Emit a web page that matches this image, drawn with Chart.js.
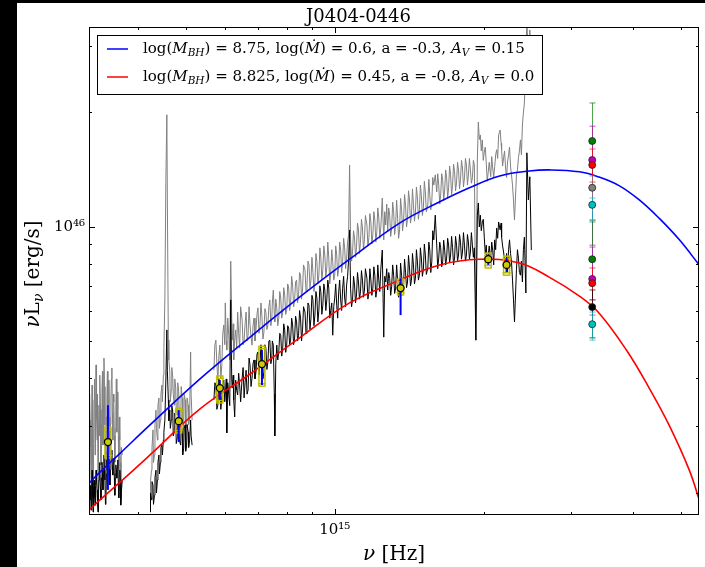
<!DOCTYPE html>
<html>
<head>
<meta charset="utf-8">
<title>J0404-0446 SED</title>
<script src="https://cdn.jsdelivr.net/npm/chart.js@4.4.1/dist/chart.umd.min.js"></script>
<style>
  html, body { margin: 0; padding: 0; background: #000; overflow: hidden; }
  #wrap { position: absolute; left: 17px; top: 3px; width: 688px; height: 564px; background: #fff; }
</style>
</head>
<body>
<div id="wrap"><canvas id="sed" width="688" height="564"></canvas></div>
<script>
// axis limits
const NU_MIN = 3.19e14, NU_MAX = 5.44e15;
const L_MIN = 1.746e45, L_MAX = 3.357e46;

// spectrum, in three pieces: log10(nu/Hz), observed (gray) and corrected (black) log10(nu L_nu)
const spec1LogNu = [
  14.504, 14.505, 14.506, 14.507, 14.508, 14.509, 14.510, 14.511, 14.512, 14.513,
  14.514, 14.515, 14.516, 14.517, 14.518, 14.519, 14.520, 14.521, 14.522, 14.523,
  14.524, 14.525, 14.526, 14.527, 14.528, 14.529, 14.530, 14.531, 14.532, 14.533,
  14.534, 14.535, 14.536, 14.537, 14.538, 14.539, 14.540, 14.541, 14.542, 14.543,
  14.544, 14.545, 14.546, 14.547, 14.548, 14.549, 14.550, 14.551, 14.552, 14.553,
  14.554, 14.555, 14.556, 14.557, 14.558, 14.559, 14.560, 14.561, 14.562, 14.563,
  14.564, 14.565, 14.566, 14.567, 14.568, 14.569, 14.571
];
const spec1Gray = [
  45.360, 45.560, 45.492, 45.420, 45.308, 45.470, 45.584, 45.380, 45.268, 45.430,
  45.545, 45.600, 45.400, 45.520, 45.637, 45.500, 45.439, 45.560, 45.250, 45.470,
  45.531, 45.450, 45.610, 45.520, 45.374, 45.480, 45.571, 45.620, 45.426, 45.530,
  45.655, 45.580, 45.479, 45.410, 45.360, 45.500, 45.558, 45.620, 45.466, 45.540,
  45.597, 45.500, 45.400, 45.480, 45.545, 45.600, 45.629, 45.510, 45.439, 45.560,
  45.539, 45.450, 45.381, 45.470, 45.518, 45.600, 45.460, 45.520, 45.566, 45.450,
  45.360, 45.500, 45.439, 45.380, 45.282, 45.420, 45.400
];
const spec1Black = [
  45.250, 45.300, 45.282, 45.320, 45.255, 45.300, 45.360, 45.290, 45.250, 45.310,
  45.334, 45.290, 45.268, 45.320, 45.360, 45.330, 45.308, 45.270, 45.250, 45.300,
  45.334, 45.380, 45.360, 45.310, 45.282, 45.340, 45.381, 45.350, 45.308, 45.360,
  45.400, 45.360, 45.334, 45.270, 45.282, 45.350, 45.387, 45.360, 45.347, 45.380,
  45.400, 45.360, 45.321, 45.360, 45.381, 45.400, 45.413, 45.370, 45.347, 45.380,
  45.392, 45.340, 45.294, 45.350, 45.374, 45.360, 45.339, 45.370, 45.387, 45.330,
  45.287, 45.320, 45.360, 45.330, 45.268, 45.300, 45.334
];

const spec2LogNu = [
  14.627, 14.628, 14.630, 14.631, 14.633, 14.634, 14.636, 14.637, 14.639, 14.640,
  14.642, 14.643, 14.645, 14.646, 14.648, 14.649, 14.651, 14.652, 14.654, 14.655,
  14.657, 14.659, 14.661, 14.662, 14.664, 14.665, 14.667, 14.668, 14.670, 14.671,
  14.673, 14.674, 14.676, 14.677, 14.679, 14.680, 14.682, 14.683, 14.685, 14.686,
  14.689, 14.690, 14.692, 14.693, 14.695, 14.696, 14.698, 14.699, 14.701, 14.702,
  14.704, 14.705, 14.707, 14.709, 14.710, 14.712
];
const spec2Gray = [
  45.268, 45.330, 45.360, 45.420, 45.466, 45.380, 45.400, 45.480, 45.518, 45.470,
  45.439, 45.530, 45.550, 45.470, 45.492, 45.560, 45.584, 45.540, 45.610, 45.680,
  45.808, 46.124, 46.295, 46.071, 45.702, 45.650, 45.618, 45.540, 45.571, 45.630,
  45.602, 45.560, 45.531, 45.600, 45.576, 45.520, 45.505, 45.590, 45.566, 45.500,
  45.492, 45.580, 45.550, 45.490, 45.466, 45.560, 45.545, 45.470, 45.479, 45.550,
  45.531, 45.480, 45.497, 45.671, 45.560, 45.492
];
const spec2Black = [
  45.250, 45.300, 45.282, 45.330, 45.321, 45.270, 45.294, 45.340, 45.360, 45.300,
  45.334, 45.380, 45.400, 45.350, 45.381, 45.420, 45.426, 45.400, 45.439, 45.460,
  45.492, 45.597, 45.729, 45.623, 45.545, 45.490, 45.518, 45.470, 45.492, 45.530,
  45.513, 45.450, 45.460, 45.510, 45.497, 45.430, 45.445, 45.500, 45.479, 45.440,
  45.426, 45.480, 45.466, 45.400, 45.418, 45.470, 45.479, 45.410, 45.426, 45.480,
  45.460, 45.420, 45.439, 45.492, 45.450, 45.426
];

const spec3LogNu = [
  14.756, 14.758, 14.760, 14.762, 14.764, 14.766, 14.768, 14.770, 14.772, 14.774,
  14.776, 14.778, 14.779, 14.781, 14.782, 14.784, 14.786, 14.788, 14.790, 14.792,
  14.793, 14.795, 14.796, 14.798, 14.800, 14.802, 14.804, 14.806, 14.808, 14.810,
  14.813, 14.815, 14.817, 14.819, 14.821, 14.823, 14.825, 14.827, 14.829, 14.831,
  14.833, 14.835, 14.837, 14.839, 14.841, 14.843, 14.845, 14.847, 14.849, 14.851,
  14.853, 14.855, 14.857, 14.859, 14.861, 14.863, 14.865, 14.867, 14.869, 14.871,
  14.873, 14.874, 14.876, 14.878, 14.879, 14.881, 14.883, 14.885, 14.887, 14.889,
  14.891, 14.893, 14.895, 14.897, 14.899, 14.901, 14.903, 14.905, 14.907, 14.909,
  14.911, 14.913, 14.915, 14.917, 14.919, 14.921, 14.923, 14.925, 14.927, 14.929,
  14.931, 14.933, 14.935, 14.937, 14.940, 14.942, 14.944, 14.946, 14.948, 14.950,
  14.952, 14.954, 14.956, 14.958, 14.960, 14.962, 14.964, 14.966, 14.968, 14.970,
  14.972, 14.974, 14.976, 14.978, 14.980, 14.982, 14.984, 14.986, 14.988, 14.990,
  14.992, 14.994, 14.996, 14.998, 15.000, 15.002, 15.004, 15.006, 15.008, 15.010,
  15.012, 15.014, 15.016, 15.018, 15.020, 15.022, 15.024, 15.026, 15.028, 15.030,
  15.032, 15.034, 15.036, 15.038, 15.040, 15.042, 15.044, 15.046, 15.048, 15.050,
  15.052, 15.054, 15.056, 15.058, 15.060, 15.062, 15.065, 15.067, 15.069, 15.071,
  15.073, 15.075, 15.077, 15.079, 15.081, 15.083, 15.085, 15.087, 15.089, 15.091,
  15.093, 15.096, 15.099, 15.101, 15.103, 15.105, 15.107, 15.109, 15.111, 15.113,
  15.115, 15.117, 15.119, 15.121, 15.123, 15.125, 15.127, 15.129, 15.131, 15.133,
  15.135, 15.137, 15.139, 15.141, 15.143, 15.145, 15.147, 15.149, 15.151, 15.153,
  15.155, 15.157, 15.159, 15.161, 15.163, 15.165, 15.167, 15.169, 15.171, 15.173,
  15.175, 15.177, 15.179, 15.181, 15.183, 15.185, 15.188, 15.190, 15.192, 15.194,
  15.196, 15.198, 15.200, 15.203, 15.206, 15.208, 15.210, 15.212, 15.214, 15.216,
  15.218, 15.220, 15.222, 15.224, 15.226, 15.228, 15.230, 15.232, 15.234, 15.236,
  15.238, 15.240, 15.242, 15.244, 15.246, 15.248, 15.250, 15.252, 15.254, 15.256,
  15.258, 15.260, 15.262, 15.264, 15.266, 15.268, 15.270, 15.272, 15.274, 15.276,
  15.278, 15.280, 15.282, 15.285, 15.288, 15.290, 15.292, 15.294, 15.296, 15.298,
  15.300, 15.302, 15.304, 15.306, 15.308, 15.310, 15.312, 15.315, 15.317, 15.319,
  15.321, 15.323, 15.325, 15.327, 15.329, 15.331, 15.334, 15.336, 15.337, 15.339,
  15.341, 15.343, 15.345, 15.347, 15.349, 15.351, 15.353, 15.355, 15.357, 15.359,
  15.361, 15.363, 15.367, 15.369, 15.371, 15.373, 15.375, 15.377, 15.379, 15.381,
  15.383, 15.386, 15.388, 15.391, 15.394, 15.397
];
const spec3Gray = [
  45.623, 45.690, 45.702, 45.640, 45.597, 45.660, 45.689, 45.600, 45.637, 45.720,
  45.742, 45.690, 45.800, 45.700, 45.676, 45.760, 45.715, 45.650, 45.910, 45.760,
  45.702, 45.745, 45.650, 45.700, 45.729, 45.680, 45.776, 45.720, 45.681, 45.790,
  45.755, 45.690, 45.702, 45.745, 45.776, 45.700, 45.715, 45.790, 45.742, 45.710,
  45.689, 45.740, 45.760, 45.700, 45.729, 45.770, 45.787, 45.720, 45.742, 45.800,
  45.765, 45.705, 45.723, 45.785, 45.776, 45.730, 45.742, 45.790, 45.808, 45.740,
  45.760, 45.800, 45.834, 45.770, 45.750, 45.810, 45.787, 45.740, 45.760, 45.830,
  45.813, 45.760, 45.776, 45.840, 45.821, 45.770, 45.781, 45.850, 45.839, 45.780,
  45.802, 45.870, 45.847, 45.790, 45.808, 45.855, 45.860, 45.800, 45.821, 45.880,
  45.873, 45.810, 45.834, 45.900, 45.887, 45.830, 45.847, 45.910, 45.900, 45.840,
  45.860, 45.920, 45.881, 45.830, 45.855, 45.930, 45.908, 45.850, 45.873, 45.945,
  45.918, 45.860, 45.887, 45.950, 45.926, 45.870, 45.892, 45.960, 45.918, 45.850,
  45.881, 45.940, 45.908, 45.860, 45.873, 45.950, 45.926, 45.870, 45.892, 45.960,
  45.939, 45.880, 45.908, 45.970, 45.945, 45.890, 45.918, 45.960, 45.979, 46.163,
  45.966, 45.910, 45.934, 45.990, 45.971, 45.920, 45.945, 46.010, 45.992, 45.930,
  45.960, 46.020, 45.997, 45.940, 45.966, 46.030, 46.005, 45.950, 45.971, 46.035,
  46.013, 45.955, 45.979, 46.040, 46.018, 45.960, 45.987, 46.050, 46.023, 45.970,
  45.997, 46.076, 45.966, 46.040, 46.005, 46.060, 45.987, 46.050, 46.031, 45.975,
  45.997, 46.065, 46.039, 45.980, 46.005, 46.070, 46.023, 45.970, 45.992, 46.075,
  46.045, 45.990, 46.013, 46.085, 46.058, 46.000, 46.023, 46.095, 46.071, 46.010,
  46.031, 46.100, 46.058, 46.015, 46.039, 46.105, 46.076, 46.020, 46.045, 46.110,
  46.082, 46.030, 46.050, 46.120, 46.092, 46.040, 46.058, 46.125, 46.084, 46.045,
  46.066, 46.130, 46.110, 46.137, 46.092, 46.140, 46.110, 46.060, 46.084, 46.140,
  46.124, 46.070, 46.097, 46.150, 46.129, 46.075, 46.103, 46.160, 46.137, 46.085,
  46.110, 46.165, 46.145, 46.095, 46.118, 46.170, 46.150, 46.100, 46.124, 46.175,
  46.155, 46.105, 46.129, 46.180, 46.163, 46.110, 46.137, 46.180, 46.150, 46.115,
  46.129, 46.175, 46.163, 45.702, 46.176, 46.276, 46.230, 46.242, 46.200, 46.229,
  46.175, 46.197, 46.210, 46.168, 46.120, 46.145, 46.170, 46.132, 46.185, 46.155,
  46.130, 46.158, 46.190, 46.203, 46.180, 46.242, 46.255, 46.220, 46.203, 46.160,
  46.182, 46.200, 46.155, 46.130, 46.171, 46.190, 46.210, 46.160, 46.137, 46.110,
  46.071, 46.018, 46.137, 46.150, 46.182, 46.200, 46.229, 46.190, 46.268, 46.300,
  46.326, 46.440, 46.545, 46.432, 46.518, 46.361
];
const spec3Black = [
  45.545, 45.590, 45.584, 45.520, 45.531, 45.600, 45.571, 45.520, 45.550, 45.585,
  45.597, 45.540, 45.558, 45.600, 45.458, 45.590, 45.558, 45.530, 45.808, 45.600,
  45.576, 45.610, 45.545, 45.500, 45.597, 45.570, 45.558, 45.615, 45.584, 45.540,
  45.602, 45.630, 45.550, 45.590, 45.623, 45.560, 45.571, 45.655, 45.637, 45.580,
  45.602, 45.640, 45.650, 45.600, 45.618, 45.665, 45.671, 45.610, 45.637, 45.690,
  45.663, 45.600, 45.618, 45.690, 45.681, 45.625, 45.644, 45.700, 45.702, 45.640,
  45.655, 45.700, 45.689, 45.560, 45.450, 45.640, 45.689, 45.650, 45.671, 45.720,
  45.715, 45.660, 45.681, 45.745, 45.729, 45.670, 45.689, 45.740, 45.734, 45.690,
  45.702, 45.760, 45.742, 45.690, 45.708, 45.765, 45.750, 45.700, 45.715, 45.780,
  45.760, 45.700, 45.729, 45.790, 45.776, 45.720, 45.742, 45.800, 45.794, 45.730,
  45.760, 45.820, 45.808, 45.740, 45.768, 45.830, 45.813, 45.750, 45.781, 45.845,
  45.829, 45.770, 45.794, 45.850, 45.834, 45.780, 45.808, 45.860, 45.839, 45.760,
  45.781, 45.800, 45.715, 45.790, 45.813, 45.850, 45.794, 45.760, 45.829, 45.860,
  45.808, 45.780, 45.839, 45.870, 45.813, 45.790, 45.847, 45.870, 45.913, 45.992,
  45.839, 45.790, 45.808, 45.870, 45.847, 45.800, 45.821, 45.880, 45.855, 45.810,
  45.829, 45.885, 45.860, 45.815, 45.834, 45.890, 45.865, 45.810, 45.829, 45.890,
  45.860, 45.820, 45.839, 45.895, 45.873, 45.815, 45.834, 45.900, 45.860, 45.830,
  45.887, 45.939, 45.710, 45.870, 45.855, 45.890, 45.834, 45.880, 45.865, 45.820,
  45.844, 45.900, 45.873, 45.825, 45.839, 45.900, 45.860, 45.815, 45.829, 45.905,
  45.873, 45.830, 45.847, 45.915, 45.881, 45.840, 45.855, 45.925, 45.892, 45.845,
  45.860, 45.930, 45.900, 45.850, 45.865, 45.940, 45.908, 45.860, 45.873, 45.945,
  45.918, 45.870, 45.887, 45.955, 45.926, 45.875, 45.892, 45.960, 45.939, 45.880,
  45.908, 45.990, 45.966, 46.031, 45.952, 45.890, 45.918, 45.960, 45.945, 45.895,
  45.908, 45.965, 45.939, 45.900, 45.918, 45.970, 45.952, 45.905, 45.926, 45.975,
  45.945, 45.900, 45.918, 45.975, 45.952, 45.910, 45.926, 45.980, 45.960, 45.915,
  45.934, 45.985, 45.952, 45.910, 45.926, 45.980, 45.960, 45.915, 45.934, 45.985,
  45.952, 45.920, 45.945, 45.702, 46.031, 46.063, 46.000, 46.031, 45.990, 46.013,
  46.020, 45.973, 45.930, 45.952, 45.905, 45.926, 45.950, 45.908, 45.960, 45.939,
  45.900, 45.966, 45.940, 45.997, 45.970, 46.013, 45.992, 46.010, 45.973, 45.950,
  45.934, 45.910, 45.892, 45.930, 45.881, 45.940, 45.966, 45.930, 45.908, 45.860,
  45.808, 45.750, 45.887, 45.940, 45.918, 45.880, 45.873, 45.910, 45.855, 45.940,
  45.973, 45.826, 46.195, 46.071, 46.132, 45.939
];

// accretion disc models
const modelLogMbh  = [8.75, 8.825];
const modelLogMdot = [0.6, 0.45];
const modelSpin    = [-0.3, -0.8];
const modelAv      = [0.15, 0.0];

const blueLogNu = [14.504, 14.526, 14.567, 14.627, 14.728, 14.829, 14.929, 15.030, 15.131, 15.212,
  15.272, 15.333, 15.393, 15.433, 15.494, 15.534, 15.575, 15.615, 15.655, 15.696, 15.736];
const blueLogL  = [45.326, 45.355, 45.405, 45.479, 45.600, 45.710, 45.815, 45.915, 46.010, 46.066,
  46.103, 46.134, 46.147, 46.150, 46.145, 46.131, 46.108, 46.071, 46.023, 45.966, 45.900];

const redLogNu = [14.504, 14.526, 14.567, 14.627, 14.728, 14.829, 14.929, 15.030, 15.131, 15.212,
  15.292, 15.373, 15.433, 15.494, 15.534, 15.589, 15.635, 15.675, 15.716, 15.736];
const redLogL  = [45.255, 45.282, 45.329, 45.400, 45.521, 45.613, 45.708, 45.800, 45.860, 45.900,
  45.915, 45.905, 45.868, 45.818, 45.773, 45.676, 45.576, 45.479, 45.360, 45.282];

// broad-band photometry with two error ranges
const photLogNu = [14.542, 14.685, 14.768, 14.853, 15.133, 15.310, 15.347];
const photLogL  = [45.434, 45.489, 45.576, 45.639, 45.839, 45.915, 45.900];
const photCapHi = [45.473, 45.523, 45.608, 45.686, 45.863, 45.931, 45.923];
const photCapLo = [45.392, 45.458, 45.537, 45.581, 45.821, 45.892, 45.873];
const photBarHi = [45.531, 45.518, 45.597, 45.676, 45.865, 45.926, 45.918];
const photBarLo = [45.308, 45.434, 45.545, 45.584, 45.768, 45.900, 45.881];

// UV points, all at one frequency
const uvLogNu = 15.520;
const uvLogL  = [46.226, 46.176, 46.163, 46.103, 46.058, 45.915, 45.863, 45.852, 45.789, 45.744];
const uvLogHi = [46.326, 46.265, 46.205, 46.134, 46.076, 46.013, 45.947, 45.892, 45.834, 45.776];
const uvLogLo = [46.018, 45.952, 46.118, 46.058, 46.018, 45.808, 45.768, 45.808, 45.708, 45.702];
const uvColors = ['#008000', '#bf00bf', '#ff0000', '#808080', '#00bfbf',
                  '#008000', '#bf00bf', '#ff0000', '#000000', '#00bfbf'];

const SERIF = '"DejaVu Serif", "Liberation Serif", serif';
const pt = (lx, ly) => ({ x: Math.pow(10, lx), y: ly === null ? null : Math.pow(10, ly) });
const series = (xs, ys) => xs.map((v, i) => pt(v, ys[i]));
const fmt = v => Number.isInteger(v) ? v.toFixed(1) : String(v);
const isDecade = (v, e) => Math.abs(Math.log10(v) - e) < 1e-6;

// join spectral pieces, breaking the line between them
function spectrum(pieces) {
  const out = [];
  pieces.forEach(([nu, l], k) => {
    if (k) out.push({ x: out[out.length - 1].x, y: null });
    out.push(...series(nu, l));
  });
  return out;
}

function logTicks(min, max) {
  const out = [];
  for (let e = Math.floor(Math.log10(min)); e <= Math.ceil(Math.log10(max)); e++) {
    for (let k = 1; k < 10; k++) {
      const v = k * Math.pow(10, e);
      if (v > min && v < max) out.push({ v, major: k === 1 });
    }
  }
  return out;
}

// draws a run of [text, style] pieces: style 'i' italic, 's' subscript
function rich(ctx, x, y, parts, size, draw) {
  let cx = x;
  for (const [t, s] of parts) {
    const sub = s.includes('s');
    const fs = sub ? size * 0.7 : size;
    ctx.font = (s.includes('i') ? 'italic ' : '') + fs + 'px ' + SERIF;
    if (draw) ctx.fillText(t, cx, y + (sub ? size * 0.28 : 0));
    cx += ctx.measureText(t).width;
  }
  return cx - x;
}

function modelLabel(i) {
  return [
    ['log(', ''], ['M', 'i'], ['BH', 'is'],
    [') = ' + fmt(modelLogMbh[i]) + ', log(', ''], ['Ṁ', 'i'],
    [') = ' + fmt(modelLogMdot[i]) + ', a = ' + fmt(modelSpin[i]) + ', ', ''],
    ['A', 'i'], ['V', 'is'], [' = ' + fmt(modelAv[i]), '']
  ];
}

// error bars go under the markers
const errorBars = {
  id: 'errorBars',
  beforeDatasetDraw(chart, args) {
    if (args.index !== 1) return;
    const { ctx, scales: { x, y } } = chart;
    ctx.save();
    photLogNu.forEach((lx, i) => {
      const px = x.getPixelForValue(Math.pow(10, lx));
      const hi = y.getPixelForValue(Math.pow(10, photCapHi[i]));
      const lo = y.getPixelForValue(Math.pow(10, photCapLo[i]));
      ctx.strokeStyle = '#bfbf00';
      ctx.lineWidth = 1.5;
      ctx.strokeRect(px - 3, hi, 6, lo - hi);
      ctx.beginPath();
      ctx.moveTo(px - 4, hi + 2.5); ctx.lineTo(px + 4, hi + 2.5);
      ctx.moveTo(px - 4, lo - 2.5); ctx.lineTo(px + 4, lo - 2.5);
      ctx.stroke();
      ctx.strokeStyle = '#0000ff';
      ctx.lineWidth = 2;
      ctx.beginPath();
      ctx.moveTo(px, y.getPixelForValue(Math.pow(10, photBarHi[i])));
      ctx.lineTo(px, y.getPixelForValue(Math.pow(10, photBarLo[i])));
      ctx.stroke();
    });
    const ux = Math.round(x.getPixelForValue(Math.pow(10, uvLogNu))) + 0.5;
    ctx.lineWidth = 1;
    uvLogL.forEach((v, i) => {
      const hi = y.getPixelForValue(Math.pow(10, uvLogHi[i]));
      const lo = y.getPixelForValue(Math.pow(10, uvLogLo[i]));
      ctx.strokeStyle = uvColors[i];
      ctx.globalAlpha = 0.7;
      ctx.beginPath();
      ctx.moveTo(ux, hi); ctx.lineTo(ux, lo);
      ctx.moveTo(ux - 3, hi); ctx.lineTo(ux + 3, hi);
      ctx.moveTo(ux - 3, lo); ctx.lineTo(ux + 3, lo);
      ctx.stroke();
    });
    ctx.restore();
  }
};

// box, inward ticks, axis titles and the legend
const decorations = {
  id: 'decorations',
  afterDraw(chart) {
    const { ctx, chartArea: a, scales: { x, y } } = chart;
    ctx.save();
    ctx.strokeStyle = '#000';
    ctx.lineWidth = 1;
    ctx.beginPath();
    for (const t of logTicks(NU_MIN, NU_MAX)) {
      const px = Math.round(x.getPixelForValue(t.v)) + 0.5;
      const len = t.major ? 6 : 3;
      ctx.moveTo(px, a.bottom); ctx.lineTo(px, a.bottom - len);
      ctx.moveTo(px, a.top); ctx.lineTo(px, a.top + len);
    }
    for (const t of logTicks(L_MIN, L_MAX)) {
      const py = Math.round(y.getPixelForValue(t.v)) + 0.5;
      const len = t.major ? 6 : 3;
      ctx.moveTo(a.left, py); ctx.lineTo(a.left + len, py);
      ctx.moveTo(a.right, py); ctx.lineTo(a.right - len, py);
    }
    ctx.stroke();
    ctx.strokeRect(Math.round(a.left) + 0.5, Math.round(a.top) + 0.5,
                   Math.round(a.right - a.left) - 1, Math.round(a.bottom - a.top) - 1);

    // axis titles
    ctx.fillStyle = '#000';
    ctx.textBaseline = 'middle';
    const xt = [['ν', 'i'], [' [Hz]', '']];
    const xw = rich(ctx, 0, 0, xt, 20, false);
    rich(ctx, (a.left + a.right) / 2 - xw / 2, a.bottom + 40, xt, 20, true);

    const yt = [['ν', 'i'], ['L', ''], ['ν', 'is'], [' [erg/s]', '']];
    const yw = rich(ctx, 0, 0, yt, 20, false);
    ctx.save();
    ctx.translate(a.left - 55, (a.top + a.bottom) / 2 + 3);
    ctx.rotate(-Math.PI / 2);
    rich(ctx, -yw / 2, 0, yt, 20, true);
    ctx.restore();

    // legend
    const fs = 15;
    const lx = a.left + 8, ly = a.top + 8;
    const rows = [modelLabel(0), modelLabel(1)];
    const colors = ['#0000ff', '#ff0000'];
    const textX = lx + 46;
    const widths = rows.map(r => rich(ctx, 0, 0, r, fs, false));
    const bw = textX + Math.max(...widths) + 8 - lx;
    const bh = 59;
    ctx.fillStyle = '#fff';
    ctx.fillRect(lx, ly, bw, bh);
    ctx.strokeStyle = '#000';
    ctx.lineWidth = 1;
    ctx.strokeRect(Math.round(lx) + 0.5, Math.round(ly) + 0.5, Math.round(bw), bh);
    rows.forEach((r, i) => {
      const ry = ly + 14 + i * 28;
      ctx.strokeStyle = colors[i];
      ctx.lineWidth = 1.5;
      ctx.beginPath();
      ctx.moveTo(lx + 10, ry); ctx.lineTo(lx + 31, ry);
      ctx.stroke();
      ctx.fillStyle = '#000';
      rich(ctx, textX, ry, r, fs, true);
    });
    ctx.restore();
  }
};

new Chart(document.getElementById('sed'), {
  type: 'line',
  data: {
    datasets: [
      {
        label: 'UV',
        data: uvLogL.map(v => pt(uvLogNu, v)),
        showLine: false,
        pointRadius: 3.5,
        pointBackgroundColor: uvColors,
        pointBorderColor: '#222',
        pointBorderWidth: 0.8
      },
      {
        label: 'photometry',
        data: series(photLogNu, photLogL),
        showLine: false,
        pointRadius: 3.5,
        pointBackgroundColor: '#cccc00',
        pointBorderColor: '#000',
        pointBorderWidth: 1.3
      },
      {
        label: 'model 1',
        data: series(blueLogNu, blueLogL),
        borderColor: '#0000ff',
        borderWidth: 1.6,
        pointRadius: 0,
        tension: 0.4
      },
      {
        label: 'model 2',
        data: series(redLogNu, redLogL),
        borderColor: '#ff0000',
        borderWidth: 1.6,
        pointRadius: 0,
        tension: 0.4
      },
      {
        label: 'corrected',
        data: spectrum([[spec1LogNu, spec1Black], [spec2LogNu, spec2Black], [spec3LogNu, spec3Black]]),
        borderColor: '#000000',
        borderWidth: 1,
        pointRadius: 0,
        spanGaps: false
      },
      {
        label: 'observed',
        data: spectrum([[spec1LogNu, spec1Gray], [spec2LogNu, spec2Gray], [spec3LogNu, spec3Gray]]),
        borderColor: '#808080',
        borderWidth: 1,
        pointRadius: 0,
        spanGaps: false
      }
    ]
  },
  options: {
    responsive: false,
    animation: false,
    events: [],
    layout: { padding: { left: 0, right: 5, top: 0, bottom: 0 } },
    plugins: {
      legend: { display: false },
      tooltip: { enabled: false },
      title: {
        display: true,
        text: 'J0404-0446',
        color: '#000',
        font: { family: SERIF, size: 18, weight: 'normal', lineHeight: 1 },
        padding: { top: 5.5, bottom: 0.5 }
      }
    },
    scales: {
      x: {
        type: 'logarithmic',
        min: NU_MIN,
        max: NU_MAX,
        grid: { display: false, drawTicks: false },
        border: { display: false },
        ticks: {
          autoSkip: false,
          maxRotation: 0,
          padding: 6,
          color: '#000',
          font: { family: SERIF, size: 15 },
          callback: v => isDecade(v, 15) ? '10¹⁵' : ''
        },
        afterFit: s => { s.height = 52; }
      },
      y: {
        type: 'logarithmic',
        min: L_MIN,
        max: L_MAX,
        grid: { display: false, drawTicks: false },
        border: { display: false },
        ticks: {
          autoSkip: false,
          padding: 4,
          color: '#000',
          font: { family: SERIF, size: 15 },
          callback: v => isDecade(v, 46) ? '10⁴⁶' : ''
        },
        afterFit: s => { s.width = 72; }
      }
    }
  },
  plugins: [errorBars, decorations]
});
</script>
</body>
</html>
